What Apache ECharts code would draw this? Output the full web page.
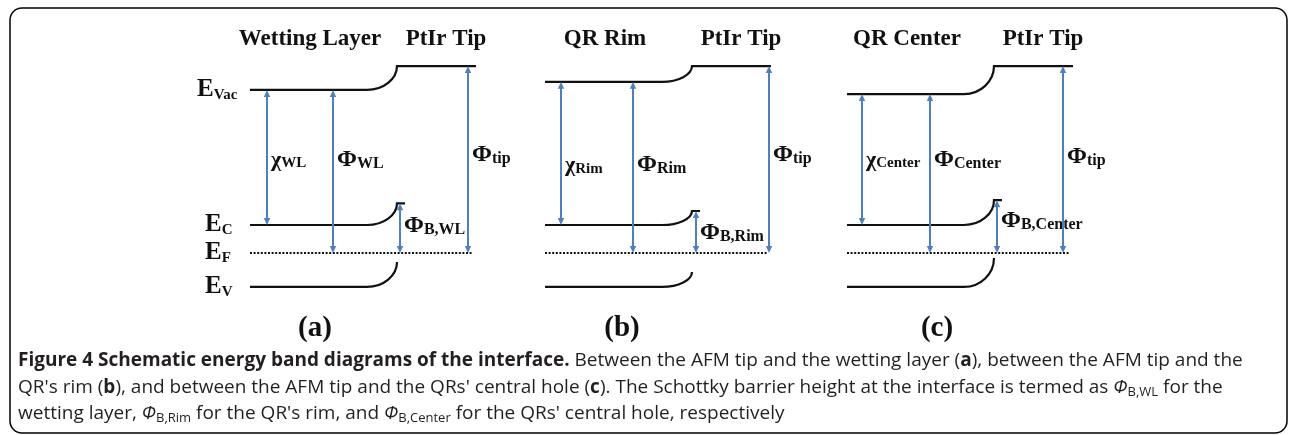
<!DOCTYPE html>
<html lang="en">
<head>
<meta charset="UTF-8">
<title>Energy band diagrams</title>
<script src="https://cdn.jsdelivr.net/npm/echarts@6/dist/echarts.min.js"></script>
<style>html, body { margin: 0; padding: 0; background: #fff; }</style>
</head>
<body>
<div id="main" style="width: 1290px; height: 435px;"></div>
<script>
// energies in eV, Fermi level = 0
var panelTags = ['(a)', '(b)', '(c)'];
var layerNames = ['Wetting Layer', 'QR Rim', 'QR Center'];
var layerSubs = ['WL', 'Rim', 'Center'];
var tipWorkFn = [5.34, 5.34, 5.34];
var workFn = [4.66, 4.89, 4.54];
var ecLevel = [0.80, 0.80, 0.80];
var barrierTop = [1.42, 1.20, 1.51];
var evLevel = [-0.97, -0.97, -0.97];
var evBendTop = [-0.26, -0.54, -0.14];

// distance along the junction (arbitrary units, 0 = left end of the bands)
var bendX = 117, interfaceX = 147, tipEndX = 226, fermiEndX = 223, ecLipX = 155;
var chiX = [17, 16, 15];
var phiX = [83, 88, 83];
var barrierX = [150, 151, 150];
var tipX = [218, 224, 216];

// where the arrow labels sit (eV)
var labelLevel = [2.66, 2.51, 2.66];
var tipLabelLevel = [2.80, 2.80, 2.75];
var barrierLabelLevel = [0.77, 0.57, 0.91];
var tagX = [65, 77, 90];

var SERIF = '"Liberation Serif", "Times New Roman", serif';
var SANS = '"Open Sans", "Noto Sans", sans-serif';
var INK = '#111';
var TEXT = '#231f20';
var BLUE = '#4f80bb';

var chart = echarts.init(document.getElementById('main'));

function symLabel(sym, sub, size, subSize, drop) {
    return {
        text: '{m|' + sym + '}{s|' + sub + '}',
        rich: {
            m: { fontFamily: SERIF, fontWeight: 'bold', fontSize: size, lineHeight: size, fill: INK },
            s: { fontFamily: SERIF, fontWeight: 'bold', fontSize: subSize, lineHeight: subSize + drop,
                 verticalAlign: 'bottom', fill: INK }
        }
    };
}

function bandRender(params, api) {
    var lvl = api.value(0), top = api.value(1), end = api.value(2);
    var a = api.coord([0, lvl]);
    var b = api.coord([bendX, lvl]);
    var c = api.coord([interfaceX, top]);
    var d = api.coord([end, top]);
    var k = 0.55;
    var path = 'M' + a[0] + ' ' + a[1] + ' L' + b[0] + ' ' + b[1] +
        ' C' + (b[0] + k * (c[0] - b[0])) + ' ' + b[1] + ' ' + c[0] + ' ' + (c[1] + k * (b[1] - c[1])) +
        ' ' + c[0] + ' ' + c[1] + ' L' + d[0] + ' ' + d[1];
    return {
        type: 'path',
        shape: { pathData: path },
        style: { fill: 'none', stroke: INK, lineWidth: 2.2 }
    };
}

function makeArrowRender(i) {
    var labels = [
        symLabel('χ', layerSubs[i], 22, 15, 2),
        symLabel('Φ', layerSubs[i], 24, 16, 4),
        symLabel('Φ', 'B,' + layerSubs[i], 24, 16, 4),
        symLabel('Φ', 'tip', 24, 16, 4)
    ];
    return function (params, api) {
        var x = api.value(0);
        var p = api.coord([x, api.value(1)]);
        var q = api.coord([x, api.value(2)]);
        var t = api.coord([x, api.value(3)]);
        var h = 7, w = 3.2;
        var lab = labels[params.dataIndex];
        return {
            type: 'group',
            children: [
                { type: 'line', shape: { x1: p[0], y1: p[1] - h + 1, x2: q[0], y2: q[1] + h - 1 },
                  style: { stroke: BLUE, lineWidth: 2 } },
                { type: 'polygon', shape: { points: [[q[0], q[1]], [q[0] - w, q[1] + h], [q[0] + w, q[1] + h]] },
                  style: { fill: BLUE } },
                { type: 'polygon', shape: { points: [[p[0], p[1]], [p[0] - w, p[1] - h], [p[0] + w, p[1] - h]] },
                  style: { fill: BLUE } },
                { type: 'text', x: t[0] + 4, y: t[1],
                  style: { text: lab.text, rich: lab.rich, align: 'left', verticalAlign: 'middle' } }
            ]
        };
    };
}

function makeTextRender(items) {
    return function (params, api) {
        var it = items[params.dataIndex];
        var c = api.coord([api.value(0), api.value(1)]);
        var style = it.rich ? { text: it.text, rich: it.rich } :
            { text: it.text, fontFamily: SERIF, fontWeight: 'bold', fontSize: it.size, fill: INK };
        style.align = it.align;
        style.verticalAlign = 'middle';
        return { type: 'text', x: c[0], y: c[1], style: style };
    };
}

var grids = [], xAxes = [], yAxes = [], series = [];
var panelLeft = [250, 545, 847];

for (var i = 0; i < 3; i++) {
    grids.push({ left: panelLeft[i], top: 8, width: 230, height: 350 });
    xAxes.push({ gridIndex: i, type: 'value', min: 0, max: 230, show: false });
    yAxes.push({ gridIndex: i, type: 'value', min: -3, max: 7, show: false });

    series.push({
        type: 'custom', name: 'bands' + i, xAxisIndex: i, yAxisIndex: i, clip: false, silent: true,
        data: [
            [workFn[i], tipWorkFn[i], tipEndX],
            [ecLevel[i], barrierTop[i], ecLipX],
            [evLevel[i], evBendTop[i], interfaceX]
        ],
        renderItem: bandRender
    });

    series.push({
        type: 'line', name: 'EF' + i, xAxisIndex: i, yAxisIndex: i, silent: true, symbol: 'none',
        data: [[0, 0], [fermiEndX, 0]],
        lineStyle: { color: INK, width: 2, type: [2, 1.6] }
    });

    series.push({
        type: 'custom', name: 'arrows' + i, xAxisIndex: i, yAxisIndex: i, clip: false, silent: true,
        data: [
            [chiX[i], ecLevel[i], workFn[i], labelLevel[i]],
            [phiX[i], 0, workFn[i], labelLevel[i]],
            [barrierX[i], 0, barrierTop[i], barrierLabelLevel[i]],
            [tipX[i], 0, tipWorkFn[i], tipLabelLevel[i]]
        ],
        renderItem: makeArrowRender(i)
    });

    var texts = [
        { text: layerNames[i], size: 23, align: 'center' },
        { text: 'PtIr Tip', size: 23, align: 'center' },
        { text: panelTags[i], size: 29, align: 'center' }
    ];
    var textData = [[60, 6.12], [196, 6.12], [tagX[i], -2.17]];
    if (i === 0) {
        var eNames = ['Vac', 'C', 'F', 'V'];
        var eLevels = [workFn[0], ecLevel[0], 0, evLevel[0]];
        var eX = [-53, -45, -45, -45];
        for (var j = 0; j < 4; j++) {
            var s = symLabel('E', eNames[j], 25, 15, 5);
            texts.push({ text: s.text, rich: s.rich, align: 'left' });
            textData.push([eX[j], eLevels[j]]);
        }
    }
    series.push({
        type: 'custom', name: 'text' + i, xAxisIndex: i, yAxisIndex: i, clip: false, silent: true,
        data: textData,
        renderItem: makeTextRender(texts)
    });
}

var capRich = {
    b: { fontFamily: SANS, fontWeight: 'bold', fontSize: 19, fill: TEXT },
    i: { fontFamily: SANS, fontStyle: 'italic', fontSize: 19, fill: TEXT },
    s: { fontFamily: SANS, fontSize: 13, lineHeight: 14, verticalAlign: 'bottom', fill: TEXT }
};
var captionLines = [
    '{b|Figure 4 Schematic energy band diagrams of the interface.} Between the AFM tip and the wetting layer ({b|a}), between the AFM tip and the',
    "QR's rim ({b|b}), and between the AFM tip and the QRs' central hole ({b|c}). The Schottky barrier height at the interface is termed as {i|Φ}{s|B,WL} for the",
    "wetting layer, {i|Φ}{s|B,Rim} for the QR's rim, and {i|Φ}{s|B,Center} for the QRs' central hole, respectively"
];
var captionY = [361, 388, 414];

var graphics = [{
    type: 'rect', silent: true,
    shape: { x: 10, y: 8, width: 1277, height: 425, r: 12 },
    style: { fill: 'none', stroke: '#000', lineWidth: 1.5 }
}];
captionLines.forEach(function (line, k) {
    graphics.push({
        type: 'text', silent: true, x: 18, y: captionY[k],
        style: { text: line, rich: capRich, fontFamily: SANS, fontSize: 19, lineHeight: 22, fill: TEXT,
                 align: 'left', verticalAlign: 'middle' }
    });
});

chart.setOption({
    animation: false,
    backgroundColor: '#fff',
    grid: grids,
    xAxis: xAxes,
    yAxis: yAxes,
    series: series,
    graphic: graphics
});
</script>
</body>
</html>
